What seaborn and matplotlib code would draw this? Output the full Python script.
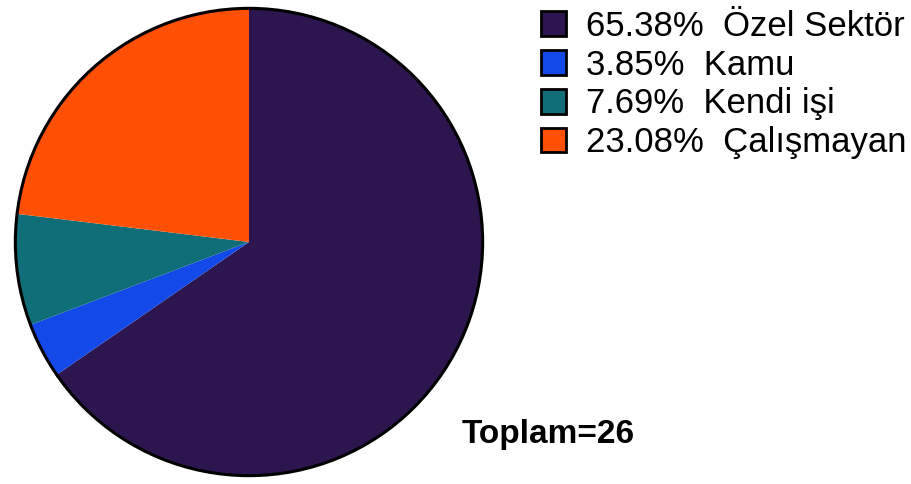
import numpy as np
import seaborn as sns
import matplotlib
matplotlib.use("Agg")
import matplotlib.pyplot as plt
from matplotlib.patches import Circle, Patch

categories = ["Özel Sektör", "Kamu", "Kendi işi", "Çalışmayan"]
counts = [17, 1, 2, 6]
colors = ["#2D154F", "#1249E8", "#0F6E77", "#FF5005"]

sns.set_theme(style="white")
plt.rcParams["font.family"] = ["Liberation Sans", "DejaVu Sans"]
plt.rcParams["text.color"] = "black"

total = sum(counts)
shares = [100 * c / total for c in counts]

fig = plt.figure(figsize=(9.12, 4.84), dpi=100)
ax = fig.add_axes([13 / 912, 6 / 484, 472 / 912, 472 / 484])

wedges, _ = ax.pie(counts, colors=colors, startangle=90, counterclock=False,
                   radius=1, wedgeprops={"linewidth": 0})
ax.add_patch(Circle((0, 0), 1, fill=False, edgecolor="black", linewidth=2.2))
ax.set_xlim(-1.01, 1.01)
ax.set_ylim(-1.01, 1.01)
ax.set_aspect("equal")
ax.axis("off")

# legend: coloured square + "xx.xx%  name"
handles = [Patch(facecolor=c, edgecolor="black", linewidth=2) for c in colors]
labels = [f"{s:.2f}%  {n}" for s, n in zip(shares, categories)]
leg = fig.legend(handles, labels, loc="upper left", bbox_to_anchor=(541 / 912, 1 - 10 / 484),
                 frameon=False, fontsize=25, handlelength=0.72, handleheight=0.72,
                 handletextpad=0.58, labelspacing=0.165, borderpad=0, borderaxespad=0)
for t in leg.get_texts():
    t.set_color("black")

fig.text(462 / 912, 1 - 434 / 484, f"Toplam={total}", fontsize=24,
         fontweight="bold", va="center", ha="left", color="black")

fig.savefig("out.png", dpi=100)
